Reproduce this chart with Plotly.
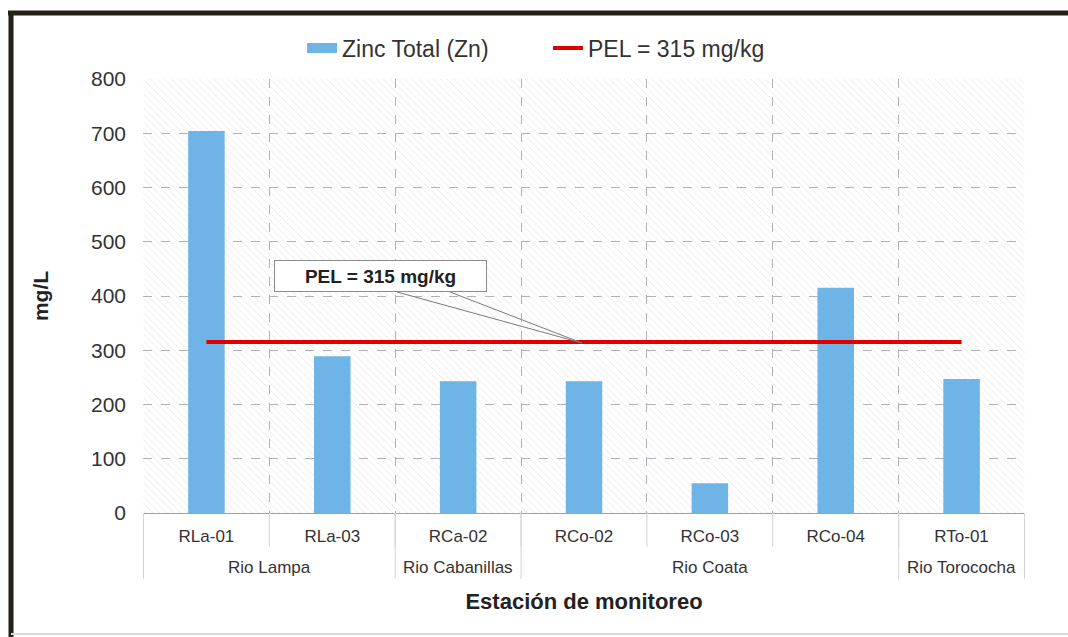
import plotly.graph_objects as go

# ---------------------------------------------------------------------
# Data
# ---------------------------------------------------------------------
RIVERS = ["Rio Lampa", "Rio Lampa", "Rio Cabanillas", "Rio Coata",
          "Rio Coata", "Rio Coata", "Rio Torococha"]
STATIONS = ["RLa-01", "RLa-03", "RCa-02", "RCo-02", "RCo-03", "RCo-04", "RTo-01"]
ZINC = [704, 289, 243, 243, 55, 415, 247]
PEL = [315] * len(STATIONS)
Y_MAX = 800

BLUE = "#6EB4E6"
RED = "#E00000"
TEXT = "#333333"
GRID = "#B0B0B8"
DIV = "#D4D4DA"
FONT = "Liberation Sans, Arial, sans-serif"

W, H = 1068, 637
PL, PR, PT, PB = 143, 1025, 79, 513  # plot area in pixels


def px(x):
    return (x - PL) / (PR - PL)


def py(y):
    return (PB - y) / (PB - PT)


fig = go.Figure()

# hatched plot background
fig.add_trace(go.Bar(
    x=STATIONS, y=[Y_MAX] * len(STATIONS), width=1,
    marker=dict(color="rgba(0,0,0,0)", line=dict(width=0),
                pattern=dict(shape="\\", fgcolor="#C8C8D0", bgcolor="rgba(0,0,0,0)",
                             size=5, solidity=0.15)),
    hoverinfo="skip", showlegend=False,
))

fig.add_trace(go.Bar(
    x=STATIONS, y=ZINC, width=0.29, marker=dict(color=BLUE, line=dict(width=0)),
    name="Zinc Total (Zn)", showlegend=False,
))
# legend swatch drawn as a wide bar, like the original
fig.add_trace(go.Scatter(
    x=[None], y=[None], mode="lines", line=dict(color=BLUE, width=10),
    name="Zinc Total (Zn)",
))
fig.add_trace(go.Scatter(
    x=STATIONS, y=PEL, mode="lines", line=dict(color=RED, width=4),
    name="PEL = 315 mg/kg",
))

fig.update_layout(
    width=W, height=H,
    barmode="overlay",
    paper_bgcolor="white",
    plot_bgcolor="white",
    font=dict(family=FONT, color=TEXT, size=17),
    margin=dict(l=PL, r=W - PR, t=PT, b=H - PB),
    legend=dict(orientation="h", x=px(302), xanchor="left", y=py(48), yanchor="middle",
                font=dict(size=23, color=TEXT), bgcolor="rgba(0,0,0,0)",
                entrywidth=201, entrywidthmode="pixels"),
)

fig.update_yaxes(
    range=[0, Y_MAX], dtick=100, showgrid=True, gridcolor=GRID, griddash="dash",
    gridwidth=1, zeroline=False, showline=False,
    tickfont=dict(size=21, color=TEXT), ticks="", ticklabelstandoff=16,
    title=dict(text="<b>mg/L</b>", font=dict(size=21, color="#222222"), standoff=36),
)
fig.update_xaxes(
    type="category", tickson="boundaries", showgrid=True, gridcolor=GRID,
    griddash="dash", gridwidth=1, showline=True, linecolor="#A0A0A8", linewidth=1,
    ticks="", tickangle=0, ticklabelstandoff=8,
    tickfont=dict(size=17, color=TEXT),
    title=dict(text="<b>Estación de monitoreo</b>", font=dict(size=22, color="#222222"),
               standoff=48),
)

# second-level labels (river) and dividers under the axis
n = len(STATIONS)
for i in range(n + 1):
    fig.add_shape(type="line", xref="x", yref="paper", x0=i - 0.5, x1=i - 0.5,
                  y0=0, y1=py(547), line=dict(color=DIV, width=1))
start = 0
for i in range(1, n + 1):
    if i == n or RIVERS[i] != RIVERS[start]:
        fig.add_annotation(xref="x", yref="paper", x=(start + i - 1) / 2, y=py(567),
                           text=RIVERS[start], showarrow=False, yanchor="middle",
                           font=dict(size=17, color=TEXT))
        fig.add_shape(type="line", xref="x", yref="paper", x0=i - 0.5, x1=i - 0.5,
                      y0=0, y1=py(579), line=dict(color=DIV, width=1))
        start = i
fig.add_shape(type="line", xref="x", yref="paper", x0=-0.5, x1=-0.5,
              y0=0, y1=py(579), line=dict(color=DIV, width=1))

# callout label for the PEL line
fig.add_annotation(
    xref="paper", yref="paper", x=px(380), y=py(276), xanchor="center", yanchor="middle",
    text="<b>PEL = 315 mg/kg</b>", showarrow=False,
    font=dict(size=19, color="#222222"), width=203, height=22,
    bgcolor="white", bordercolor="#8C8C8C", borderwidth=1, borderpad=4,
)
fig.add_shape(
    type="path", xref="paper", yref="paper",
    path=f"M {px(397)} {py(292)} L {px(582)} {py(343)} L {px(450)} {py(292)}",
    line=dict(color="#7A7A7A", width=1),
)

# outer frame
fig.add_shape(type="line", xref="paper", yref="paper", x0=px(8), x1=px(1068),
              y0=py(13), y1=py(13), line=dict(color="#222018", width=5))
fig.add_shape(type="line", xref="paper", yref="paper", x0=px(11), x1=px(11),
              y0=py(11), y1=py(637), line=dict(color="#222018", width=5))
fig.add_shape(type="line", xref="paper", yref="paper", x0=px(11), x1=px(1068),
              y0=py(634), y1=py(634), line=dict(color="#D8D8D8", width=2))

fig.write_html("out.html", config={"displayModeBar": False},
               post_script="document.body.style.margin='0';")
